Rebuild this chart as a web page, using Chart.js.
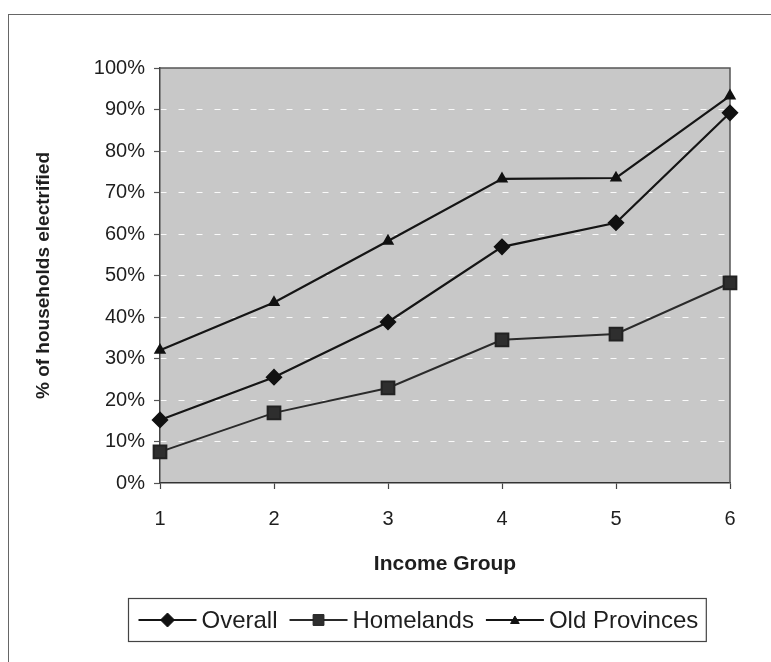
<!DOCTYPE html>
<html>
<head>
<meta charset="utf-8">
<script src="https://cdn.jsdelivr.net/npm/chart.js@4/dist/chart.umd.min.js"></script>
<style>
  html, body { margin: 0; padding: 0; background: #fff; }
  #wrap { position: relative; width: 771px; height: 662px; overflow: hidden; }
  #frame { position: absolute; left: 8px; top: 14px; width: 800px; height: 700px;
           border-left: 1px solid #666; border-top: 1px solid #666; }
  #c { position: absolute; left: 0; top: 0; }
</style>
</head>
<body>
<div id="wrap">
  <div id="frame"></div>
  <canvas id="c" width="771" height="662"></canvas>
</div>
<script>
// Share of households with electricity, by income group
const incomeGroups = ['1', '2', '3', '4', '5', '6'];
const overall      = [15.2, 25.5, 38.8, 56.9, 62.7, 89.2];
const homelands    = [7.5, 16.9, 22.9, 34.5, 35.9, 48.2];
const oldProvinces = [32.0, 43.5, 58.3, 73.3, 73.5, 93.3];
const seriesNames  = ['Overall', 'Homelands', 'Old Provinces'];
const yTickStep = 10;
const yMax = 100;

const FONT = 'Arial, "Liberation Sans", Helvetica, sans-serif';

// Grey plot panel with a dark frame
const panelPlugin = {
  id: 'panel',
  beforeDraw(chart) {
    const { ctx, chartArea: a } = chart;
    ctx.save();
    ctx.fillStyle = '#c8c8c8';
    ctx.fillRect(a.left, a.top, a.right - a.left, a.bottom - a.top);
    ctx.restore();
  },
  beforeDatasetsDraw(chart) {
    const { ctx, chartArea: a } = chart;
    ctx.save();
    ctx.strokeStyle = '#555';
    ctx.lineWidth = 1.5;
    ctx.beginPath();
    ctx.moveTo(a.left, a.top);
    ctx.lineTo(a.right, a.top);
    ctx.lineTo(a.right, a.bottom);
    ctx.stroke();
    ctx.restore();
  }
};

// Boxed legend with line-and-marker samples
const boxLegendPlugin = {
  id: 'boxLegend',
  afterDraw(chart) {
    const { ctx } = chart;
    const sets = chart.data.datasets;
    ctx.save();
    ctx.font = '24px ' + FONT;
    const sampleW = 58, gapText = 5, gapItem = 12, padL = 10, padR = 8;
    const widths = sets.map(d => ctx.measureText(d.label).width);
    let total = padL + padR;
    widths.forEach((w, i) => { total += sampleW + gapText + w + (i < sets.length - 1 ? gapItem : 0); });
    const centerX = 417;
    const left = Math.round(centerX - total / 2) + 0.5;
    const top = 598.5, h = 43;
    ctx.strokeStyle = '#444';
    ctx.lineWidth = 1.2;
    ctx.strokeRect(left, top, total, h);
    const cy = top + h / 2;
    let x = left + padL;
    sets.forEach((d, i) => {
      ctx.strokeStyle = d.borderColor;
      ctx.lineWidth = 2;
      ctx.beginPath();
      ctx.moveTo(x, cy);
      ctx.lineTo(x + sampleW, cy);
      ctx.stroke();
      ctx.fillStyle = d.pointBackgroundColor;
      ctx.strokeStyle = d.pointBorderColor;
      ctx.lineWidth = 1;
      const r = d.pointStyle === 'rect' ? d.pointRadius * 0.85 : d.pointRadius;
      Chart.helpers.drawPoint(ctx, { pointStyle: d.pointStyle, rotation: 0, radius: r, borderWidth: 1 },
        x + sampleW / 2, cy + (d.pointStyle === 'triangle' ? 1 : 0));
      x += sampleW + gapText;
      ctx.fillStyle = '#1e1e1e';
      ctx.textBaseline = 'middle';
      ctx.textAlign = 'left';
      ctx.fillText(d.label, x, cy + 1);
      x += widths[i] + gapItem;
    });
    ctx.restore();
  }
};

const chart = new Chart(document.getElementById('c'), {
  type: 'line',
  data: {
    labels: incomeGroups,
    datasets: [
      {
        label: seriesNames[0], data: overall,
        borderColor: '#151515', borderWidth: 2.2,
        pointStyle: 'rectRot', pointRadius: 7,
        pointBackgroundColor: '#111', pointBorderColor: '#111',
        tension: 0
      },
      {
        label: seriesNames[1], data: homelands,
        borderColor: '#2a2a2a', borderWidth: 2,
        pointStyle: 'rect', pointRadius: 9,
        pointBackgroundColor: '#2e2e2e', pointBorderColor: '#222',
        tension: 0
      },
      {
        label: seriesNames[2], data: oldProvinces,
        borderColor: '#151515', borderWidth: 2.2,
        pointStyle: 'triangle', pointRadius: 5,
        pointBackgroundColor: '#111', pointBorderColor: '#111',
        tension: 0
      }
    ]
  },
  options: {
    responsive: false,
    animation: false,
    devicePixelRatio: 1,
    layout: { padding: { left: 0, right: 41, top: 68, bottom: 84 } },
    plugins: {
      legend: { display: false },
      tooltip: { enabled: false }
    },
    scales: {
      x: {
        type: 'category',
        offset: false,
        afterFit(s) { s.height = 95; },
        grid: { drawOnChartArea: false, drawTicks: true, tickLength: 6, tickColor: '#444', tickWidth: 1.2 },
        border: { display: true, color: '#333', width: 1.5 },
        ticks: { color: '#1e1e1e', font: { family: FONT, size: 20 }, padding: 18, maxRotation: 0 },
        title: {
          display: true, text: 'Income Group', color: '#1e1e1e',
          font: { family: FONT, size: 21, weight: 'bold' },
          padding: { top: 0, bottom: 1 }
        }
      },
      y: {
        min: 0, max: yMax,
        afterFit(s) { s.width = 160; },
        grid: {
          drawTicks: true, tickLength: 6, tickColor: '#555', tickWidth: 1.2,
          tickBorderDash: [],
          color: ctx => (ctx.tick && (ctx.tick.value === 0 || ctx.tick.value === yMax)) ? 'rgba(0,0,0,0)' : 'rgba(255,255,255,0.9)',
          lineWidth: 1
        },
        border: { display: true, color: '#444', width: 1.5, dash: [6, 12] },
        ticks: {
          stepSize: yTickStep, color: '#1e1e1e', padding: 9,
          font: { family: FONT, size: 20 },
          callback: v => v + '%'
        },
        title: {
          display: true, text: '% of households electrified', color: '#1e1e1e',
          font: { family: FONT, size: 19, weight: 'bold' },
          padding: { top: 32, bottom: 0 }
        }
      }
    }
  },
  plugins: [panelPlugin, boxLegendPlugin]
});
</script>
</body>
</html>
